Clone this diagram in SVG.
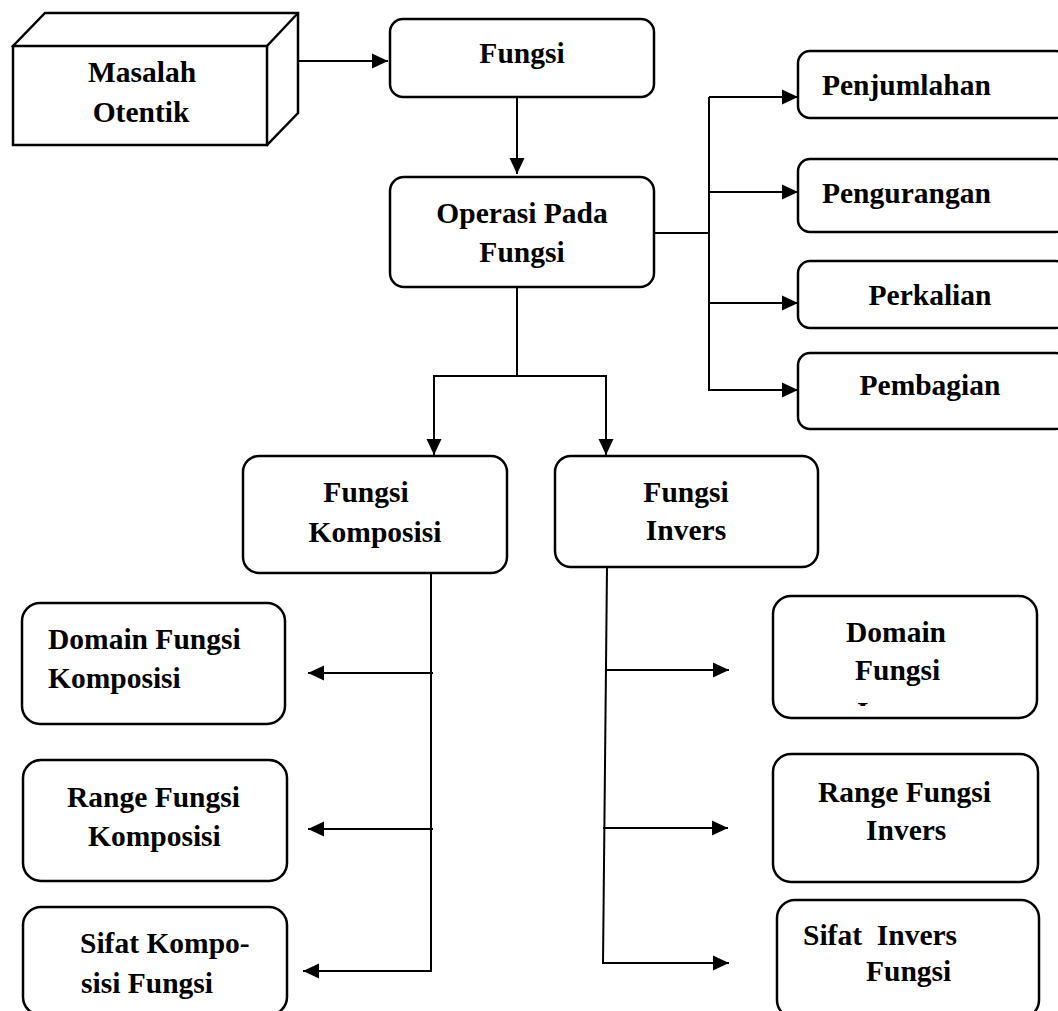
<svg xmlns="http://www.w3.org/2000/svg" width="1058" height="1011" viewBox="0 0 1058 1011">
<style>
.box{fill:#fff;stroke:#000;stroke-width:2.5}
.t{font-family:"Liberation Serif","Times New Roman",serif;font-weight:bold;font-size:29.5px;fill:#000}
.m{text-anchor:middle}
.c{fill:none;stroke:#000;stroke-width:2}
</style>
<defs>
<marker id="ah" markerUnits="userSpaceOnUse" markerWidth="17" markerHeight="16" refX="16" refY="8" orient="auto" overflow="visible">
<path d="M0,0.5 L16,8 L0,15.5 z" fill="#000"/>
</marker>
<clipPath id="clipDom"><rect x="773" y="690" width="264" height="16"/></clipPath>
</defs>
<rect width="1058" height="1011" fill="#fff"/>

<g id="connectors">
<line class="c" x1="298" y1="61" x2="388" y2="61" marker-end="url(#ah)"/>
<line class="c" x1="517" y1="97" x2="517" y2="174" marker-end="url(#ah)"/>
<line class="c" x1="654" y1="233" x2="709" y2="233"/>
<line class="c" x1="709" y1="97" x2="709" y2="390"/>
<line class="c" x1="709" y1="97" x2="798" y2="97" marker-end="url(#ah)"/>
<line class="c" x1="709" y1="192" x2="798" y2="192" marker-end="url(#ah)"/>
<line class="c" x1="709" y1="303" x2="798" y2="303" marker-end="url(#ah)"/>
<line class="c" x1="708" y1="390" x2="798" y2="390" marker-end="url(#ah)"/>
<line class="c" x1="517" y1="287" x2="517" y2="376"/>
<line class="c" x1="434" y1="376" x2="606" y2="376"/>
<line class="c" x1="434" y1="375" x2="434" y2="455" marker-end="url(#ah)"/>
<line class="c" x1="606" y1="375" x2="606" y2="455" marker-end="url(#ah)"/>
<line class="c" x1="431" y1="573" x2="431" y2="972"/>
<line class="c" x1="433" y1="673" x2="308" y2="673" marker-end="url(#ah)"/>
<line class="c" x1="433" y1="829" x2="308" y2="829" marker-end="url(#ah)"/>
<line class="c" x1="431" y1="971" x2="303" y2="971" marker-end="url(#ah)"/>
<line class="c" x1="607" y1="567" x2="603" y2="964"/>
<line class="c" x1="605" y1="670" x2="729" y2="670" marker-end="url(#ah)"/>
<line class="c" x1="603" y1="828" x2="728" y2="828" marker-end="url(#ah)"/>
<line class="c" x1="603" y1="963" x2="729" y2="963" marker-end="url(#ah)"/>
</g>

<g id="masalah">
<path class="box" d="M13,46 L45,13 L298,13 L298,113 L267,145 Z"/>
<path class="box" d="M267,46 L298,13"/>
<rect x="13" y="46" width="254" height="99" fill="#fff" stroke="#000" stroke-width="2.5"/>
<text class="t m" x="142" y="82">Masalah</text>
<text class="t m" x="141" y="122">Otentik</text>
</g>

<g id="fungsi">
<rect class="box" x="390" y="19" width="264" height="78" rx="13"/>
<text class="t m" x="522" y="63">Fungsi</text>
</g>

<g id="operasi">
<rect class="box" x="390" y="177" width="264" height="110" rx="14"/>
<text class="t m" x="522" y="223">Operasi Pada</text>
<text class="t m" x="522" y="262">Fungsi</text>
</g>

<g id="penjumlahan">
<rect class="box" x="798" y="51" width="270" height="67" rx="12"/>
<text class="t" x="822" y="95">Penjumlahan</text>
</g>
<g id="pengurangan">
<rect class="box" x="798" y="159" width="270" height="73" rx="12"/>
<text class="t" x="822" y="203">Pengurangan</text>
</g>
<g id="perkalian">
<rect class="box" x="798" y="261" width="270" height="67" rx="12"/>
<text class="t m" x="930" y="305">Perkalian</text>
</g>
<g id="pembagian">
<rect class="box" x="798" y="353" width="270" height="76" rx="12"/>
<text class="t m" x="930" y="395">Pembagian</text>
</g>

<g id="fungsi-komposisi">
<rect class="box" x="243" y="456" width="264" height="117" rx="16"/>
<text class="t m" x="366" y="502">Fungsi</text>
<text class="t m" x="375" y="542">Komposisi</text>
</g>
<g id="fungsi-invers">
<rect class="box" x="555" y="456" width="263" height="111" rx="16"/>
<text class="t m" x="686" y="502">Fungsi</text>
<text class="t m" x="686" y="540">Invers</text>
</g>

<g id="domain-komposisi">
<rect class="box" x="22" y="603" width="263" height="121" rx="18"/>
<text class="t" x="48" y="649">Domain Fungsi</text>
<text class="t" x="48" y="688">Komposisi</text>
</g>
<g id="range-komposisi">
<rect class="box" x="23" y="760" width="264" height="121" rx="18"/>
<text class="t" x="67" y="807">Range Fungsi</text>
<text class="t" x="88" y="846">Komposisi</text>
</g>
<g id="sifat-komposisi">
<rect class="box" x="23" y="907" width="264" height="108" rx="18"/>
<text class="t" x="80" y="953">Sifat Kompo-</text>
<text class="t" x="81" y="993">sisi Fungsi</text>
</g>

<g id="domain-invers">
<rect class="box" x="773" y="596" width="264" height="122" rx="18"/>
<text class="t" x="846" y="642">Domain</text>
<text class="t" x="855" y="680">Fungsi</text>
<text class="t" x="857" y="722" clip-path="url(#clipDom)">Invers</text>
</g>
<g id="range-invers">
<rect class="box" x="773" y="754" width="265" height="128" rx="18"/>
<text class="t" x="818" y="802">Range Fungsi</text>
<text class="t" x="866" y="840">Invers</text>
</g>
<g id="sifat-invers">
<rect class="box" x="777" y="900" width="262" height="118" rx="18"/>
<text class="t" x="803" y="945" xml:space="preserve">Sifat  Invers</text>
<text class="t" x="866" y="981">Fungsi</text>
</g>
</svg>
